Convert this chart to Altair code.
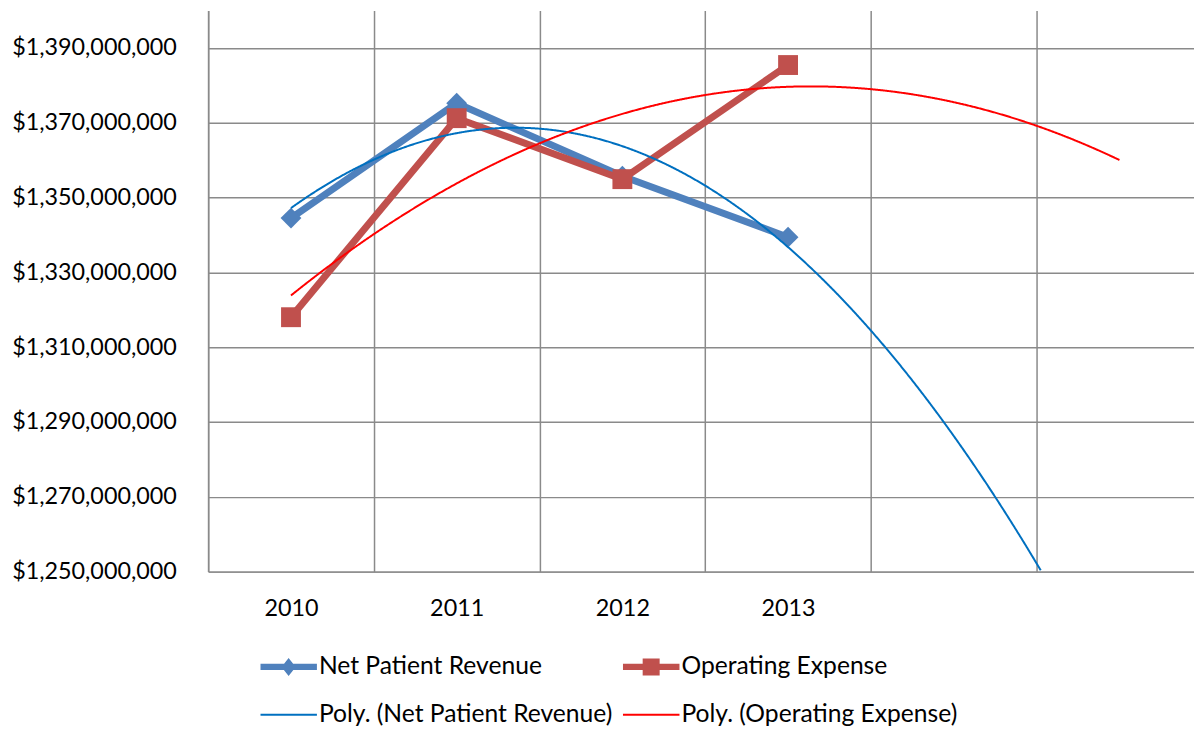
import altair as alt
import pandas as pd

# ---- data ----
years = [2010, 2011, 2012, 2013]
net_patient_revenue = [1344500000, 1375200000, 1355700000, 1339400000]
operating_expense = [1318000000, 1371200000, 1354900000, 1385400000]
series_names = ["Net Patient Revenue", "Operating Expense"]
legend_labels = [
    "Net Patient Revenue",
    "Operating Expense",
    "Poly. (Net Patient Revenue)",
    "Poly. (Operating Expense)",
]
legend_colors = ["#4F81BD", "#C0504D", "#0070C0", "#FF0000"]
y_ticks = [1250000000, 1270000000, 1290000000, 1310000000,
           1330000000, 1350000000, 1370000000, 1390000000]
x_ticks = [2009.5, 2010, 2010.5, 2011, 2011.5, 2012, 2012.5, 2013, 2013.5, 2014.5]
trend_start, trend_end = 2010, 2015  # trendline forecast forward 2 periods

rows = []
for name, vals in zip(series_names, [net_patient_revenue, operating_expense]):
    for yr, v in zip(years, vals):
        rows.append({"year": yr, "value": v, "series": name, "label": name})
df = pd.DataFrame(rows)

FONT = "Lato"
FS = 23.5
LFS = 24.8
GRID = "#8a8a8a"
Y_MIN, Y_MAX = 1250000000, 1400000000

x_axis = alt.Axis(
    values=x_ticks,
    labelExpr="datum.value % 1 === 0 ? '' + datum.value : ''",
    gridOpacity={"condition": {"test": "datum.value % 1 === 0", "value": 0}, "value": 1},
    grid=True, gridColor=GRID, gridWidth=1.5,
    ticks=False, domainColor=GRID, domainWidth=1.5,
    labelFont=FONT, labelFontSize=FS, labelColor="black",
    labelPadding=25, labelFlush=False, labelOverlap=False, title=None,
)
y_axis = alt.Axis(
    values=y_ticks, format="$,.0f",
    grid=True, gridColor=GRID, gridWidth=1.5,
    ticks=False, domainColor=GRID, domainWidth=1.5,
    labelFont=FONT, labelFontSize=FS, labelColor="black",
    labelPadding=32, title=None,
)

X = alt.X("year:Q", scale=alt.Scale(domain=[2009.5, 2015.45], nice=False, zero=False), axis=x_axis)
Y = alt.Y("value:Q", scale=alt.Scale(domain=[Y_MIN, Y_MAX], nice=False, zero=False), axis=y_axis)

# legend symbol shapes: line + marker (unit coordinates)
P_NPR = "M-1,-0.11L1,-0.11L1,0.11L-1,0.11ZM0,-0.32L0.25,0L0,0.32L-0.25,0Z"
P_OE = "M-1,-0.11L1,-0.11L1,0.11L-1,0.11ZM-0.3,-0.3L0.3,-0.3L0.3,0.3L-0.3,0.3Z"
P_TR = "M-1,-0.035L1,-0.035L1,0.035L-1,0.035Z"

legend = alt.Legend(
    orient="none", legendX=52.5, legendY=644, direction="horizontal", columns=2,
    title=None, padding=0, symbolSize=3249, symbolStrokeWidth=0, symbolOpacity=1,
    clipHeight=34, rowPadding=14, columnPadding=10, labelFont=FONT, labelFontSize=LFS,
    labelColor="black", labelOffset=2, labelLimit=500, symbolOffset=0,
)
C = alt.Color("label:N", scale=alt.Scale(domain=legend_labels, range=legend_colors), legend=legend)
S = alt.Shape("label:N", scale=alt.Scale(domain=legend_labels, range=[P_NPR, P_OE, P_TR, P_TR]), legend=legend)

base = alt.Chart(df)
npr = base.transform_filter(alt.datum.series == "Net Patient Revenue")
oe = base.transform_filter(alt.datum.series == "Operating Expense")

npr_line = npr.mark_line(strokeWidth=7, strokeJoin="round", strokeCap="round", color=legend_colors[0]).encode(x=X, y=Y)
npr_pts = npr.mark_point(shape="diamond", filled=True, size=440, opacity=1, color=legend_colors[0]).encode(x=X, y=Y)
oe_line = oe.mark_line(strokeWidth=7, strokeJoin="round", strokeCap="round", color=legend_colors[1]).encode(x=X, y=Y)
oe_pts = oe.mark_point(shape="square", filled=True, size=400, opacity=1, color=legend_colors[1]).encode(x=X, y=Y)


def trend(src, color):
    # 2nd-order least-squares polynomial fitted inside the Vega dataflow
    return (
        src.transform_joinaggregate(mt="mean(year)", my="mean(value)")
        .transform_calculate(
            dx="datum.year - datum.mt",
            dy="(datum.value - datum.my) / 1000000",
        )
        .transform_calculate(
            dx2="pow(datum.dx, 2)",
            dx3="pow(datum.dx, 3)",
            dx4="pow(datum.dx, 4)",
            dxdy="datum.dx * datum.dy",
            dx2dy="datum.dx * datum.dx * datum.dy",
        )
        .transform_aggregate(
            X2="mean(dx2)", X3="mean(dx3)", X4="mean(dx4)",
            XY="mean(dxdy)", X2Y="mean(dx2dy)", mt="mean(mt)", my="mean(my)",
        )
        .transform_calculate(
            v4="datum.X4 - datum.X2 * datum.X2",
        )
        .transform_calculate(
            d="datum.X2 * datum.v4 - datum.X3 * datum.X3",
        )
        .transform_calculate(
            qa="(datum.X2Y * datum.X2 - datum.XY * datum.X3) / datum.d",
            qb="(datum.XY * datum.v4 - datum.X2Y * datum.X3) / datum.d",
        )
        .transform_calculate(
            qc="-datum.qa * datum.X2",
            xs=f"sequence({trend_start}, {trend_end} + 0.0001, 0.005)",
        )
        .transform_flatten(["xs"])
        .transform_calculate(
            year="datum.xs",
            value="(datum.qa * pow(datum.xs - datum.mt, 2) + datum.qb * (datum.xs - datum.mt) + datum.qc) * 1000000 + datum.my",
        )
        .transform_filter(f"datum.value >= {Y_MIN}")
        .mark_line(strokeWidth=2, color=color)
        .encode(x=X, y=Y)
    )


trend_npr = trend(npr, legend_colors[2])
trend_oe = trend(oe, legend_colors[3])

# invisible layer that only carries the legend
legend_layer = base.mark_point(filled=True, opacity=0).encode(x=X, y=Y, color=C, shape=S)

chart = (
    alt.layer(npr_line, npr_pts, oe_line, oe_pts, trend_npr, trend_oe, legend_layer)
    .properties(
        width=992.5, height=565,
        padding={"left": 201.5, "top": 0, "right": 0, "bottom": 155},
        autosize=alt.AutoSizeParams(type="none"),
    )
    .configure_view(stroke=None)
)

chart.save("out.html", embed_options={"renderer": "svg", "actions": False})
